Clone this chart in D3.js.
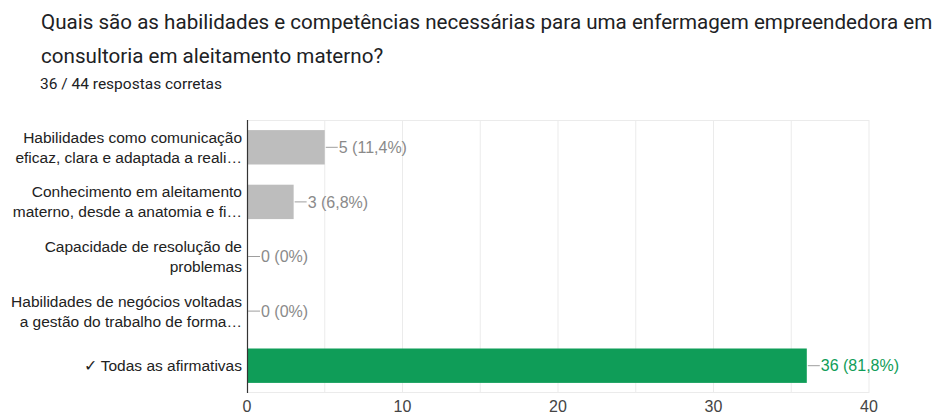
<!DOCTYPE html>
<html>
<head>
<meta charset="utf-8">
<script src="https://cdn.jsdelivr.net/npm/d3@7"></script>
<style>
  body { margin: 0; background: #fff; }
  svg { display: block; }
</style>
</head>
<body>
<div id="chart"></div>
<script>
// Data
const categories = [
    ["Habilidades como comunicação", "eficaz, clara e adaptada a reali…"],
    ["Conhecimento em aleitamento", "materno, desde a anatomia e fi…"],
    ["Capacidade de resolução de", "problemas"],
    ["Habilidades de negócios voltadas", "a gestão do trabalho de forma…"],
    ["✓ Todas as afirmativas"]
];
const counts = [5, 3, 0, 0, 36];
const percents = ["11,4%", "6,8%", "0%", "0%", "81,8%"];
const correct = [false, false, false, false, true];
const xTicks = [0, 10, 20, 30, 40];

const width = 936, height = 416;
const margin = { top: 120, right: 67, bottom: 23, left: 247 };
const plotW = width - margin.left - margin.right;
const plotH = height - margin.top - margin.bottom;

const labelFont = "'Liberation Sans', Arial, sans-serif";

const svg = d3.select("#chart")
    .append("svg")
    .attr("width", width)
    .attr("height", height);

// Title
const titleLines = [
    "Quais são as habilidades e competências necessárias para uma enfermagem empreendedora em",
    "consultoria em aleitamento materno?"
];
svg.selectAll(".title")
    .data(titleLines)
    .enter()
    .append("text")
    .attr("class", "title")
    .attr("x", 41)
    .attr("y", (d, i) => 29 + i * 34)
    .style("font-family", "Roboto, sans-serif")
    .style("font-size", "20.6px")
    .style("fill", "#202124")
    .text(d => d);

svg.append("text")
    .attr("x", 40)
    .attr("y", 89)
    .style("font-family", "Roboto, sans-serif")
    .style("font-size", "15.5px")
    .style("fill", "#202124")
    .text("36 / 44 respostas corretas");

const g = svg.append("g")
    .attr("transform", `translate(${margin.left}, ${margin.top})`);

// Scales
const x = d3.scaleLinear().domain([0, 40]).range([0, plotW]);
const y = d3.scaleBand()
    .domain(d3.range(categories.length))
    .range([0, plotH])
    .paddingInner(0.37)
    .paddingOuter(0.185);

// Grid lines every 5
g.selectAll(".grid")
    .data(d3.range(5, 41, 5))
    .enter()
    .append("line")
    .attr("x1", d => x(d))
    .attr("x2", d => x(d))
    .attr("y1", 0)
    .attr("y2", plotH)
    .style("stroke", "#ebebeb")
    .style("stroke-width", 1);

g.append("line")
    .attr("x1", 0).attr("x2", plotW)
    .attr("y1", 0.5).attr("y2", 0.5)
    .style("stroke", "#ebebeb");
g.append("line")
    .attr("x1", 0).attr("x2", plotW)
    .attr("y1", plotH - 0.5).attr("y2", plotH - 0.5)
    .style("stroke", "#ebebeb");

// Bars
g.selectAll(".bar")
    .data(counts)
    .enter()
    .append("rect")
    .attr("class", "bar")
    .attr("x", 0)
    .attr("y", (d, i) => y(i))
    .attr("width", d => x(d))
    .attr("height", y.bandwidth())
    .style("fill", (d, i) => correct[i] ? "#0f9d58" : "#bdbdbd");

// Zero axis
g.append("line")
    .attr("x1", 0.5).attr("x2", 0.5)
    .attr("y1", 0).attr("y2", plotH)
    .style("stroke", "#333")
    .style("stroke-width", 1.2);

// Value labels with leader
const labelColor = i => correct[i] ? "#0f9d58" : "#8a8a8a";
g.selectAll(".leader")
    .data(counts)
    .enter()
    .append("line")
    .attr("x1", d => x(d) + 1)
    .attr("x2", d => x(d) + 13)
    .attr("y1", (d, i) => y(i) + y.bandwidth() / 2)
    .attr("y2", (d, i) => y(i) + y.bandwidth() / 2)
    .style("stroke", "#9e9e9e")
    .style("stroke-width", 1);

g.selectAll(".value")
    .data(counts)
    .enter()
    .append("text")
    .attr("class", "value")
    .attr("x", d => x(d) + 14)
    .attr("y", (d, i) => y(i) + y.bandwidth() / 2)
    .attr("dy", "0.35em")
    .style("font-family", labelFont)
    .style("font-size", "16px")
    .style("fill", (d, i) => labelColor(i))
    .text((d, i) => `${d} (${percents[i]})`);

// Category labels
const catG = g.selectAll(".cat")
    .data(categories)
    .enter()
    .append("text")
    .attr("class", "cat")
    .attr("text-anchor", "end")
    .style("font-family", labelFont)
    .style("font-size", "15.5px")
    .style("fill", "#222");

catG.selectAll("tspan")
    .data((d, i) => d.map((t, j) => ({ t, j, n: d.length, i })))
    .enter()
    .append("tspan")
    .attr("x", -5)
    .attr("y", d => y(d.i) + y.bandwidth() / 2 + (d.j - (d.n - 1) / 2) * 20)
    .attr("dy", "0.35em")
    .text(d => d.t);

// X tick labels (reference is clipped at the bottom edge; keep them just inside)
g.selectAll(".xtick")
    .data(xTicks)
    .enter()
    .append("text")
    .attr("class", "xtick")
    .attr("x", d => x(d))
    .attr("y", plotH + 19)
    .attr("text-anchor", "middle")
    .style("font-family", labelFont)
    .style("font-size", "16px")
    .style("fill", "#444")
    .text(d => d);
</script>
</body>
</html>
